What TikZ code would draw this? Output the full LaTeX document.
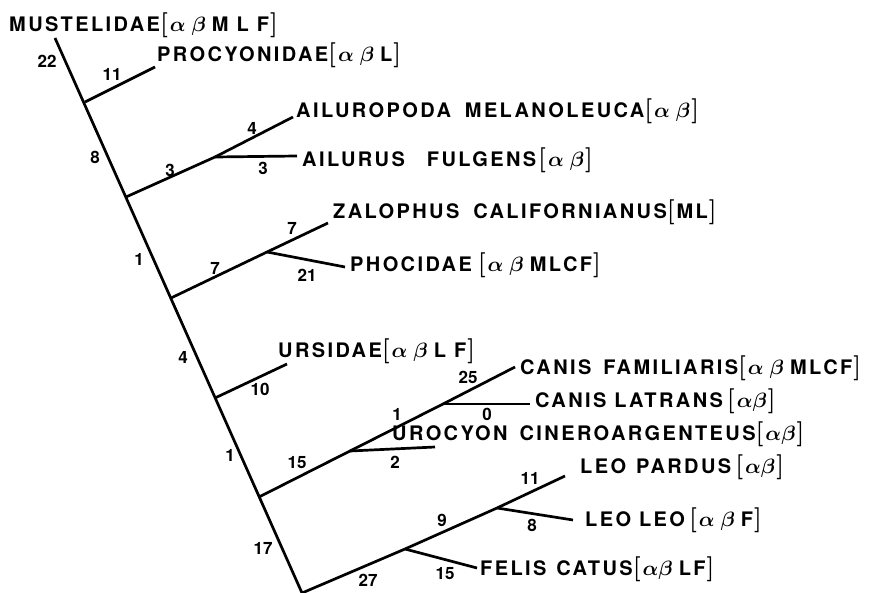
\documentclass[tikz,border=0pt]{standalone}
\usepackage{fontspec}
\newfontfamily\labfont{TeX Gyre Heros}[LetterSpace=12]
\newfontfamily\numfont{TeX Gyre Heros}
\newcommand\brk[1]{{\rmfamily\fontsize{25}{25}\selectfont#1}}
\newcommand\tg[1]{\brk{[}\hspace{2pt}#1\hspace{1pt}\brk{]}}
\newcommand\al{{\boldmath$\alpha$}}
\newcommand\be{{\boldmath$\beta$}}
\newcommand\gap{\hspace{0.3em}}
\begin{document}
\begin{tikzpicture}[x=1pt,y=-1pt,
  br/.style={line width=2.7pt},
  taxon/.style={anchor=base west,inner sep=0pt,font=\labfont\bfseries\fontsize{20}{22}\selectfont},
  num/.style={inner sep=0pt,font=\numfont\bfseries\fontsize{17}{17}\selectfont}]
\useasboundingbox (0,0) rectangle (872,593);
% tree points
\coordinate (top) at (55,38);
\coordinate (j1) at (85,102);
\coordinate (ptip) at (155,67);
\coordinate (j2) at (126,197);
\coordinate (aj) at (215,157);
\coordinate (atip1) at (293,117);
\coordinate (atip2) at (297,156);
\coordinate (j3) at (171,298);
\coordinate (zj) at (267,252);
\coordinate (ztip) at (328,223);
\coordinate (phtip) at (345,267);
\coordinate (j4) at (215,398);
\coordinate (utip) at (287,364);
\coordinate (j5) at (259,497);
\coordinate (cj1) at (350,451);
\coordinate (urotip) at (435,447);
\coordinate (cj2) at (443,404);
\coordinate (cftip) at (515,367);
\coordinate (cltip) at (530,404);
\coordinate (bot) at (302,593);
\coordinate (fj) at (405,549);
\coordinate (fctip) at (477,568);
\coordinate (lj) at (497,508);
\coordinate (lptip) at (565,476);
\coordinate (lltip) at (573,520);
% branches
\draw[br] (top) -- (bot);
\draw[br] (j1) -- (ptip);
\draw[br] (j2) -- (aj) -- (atip1);
\draw[br] (aj) -- (atip2);
\draw[br] (j3) -- (zj) -- (ztip);
\draw[br] (zj) -- (phtip);
\draw[br] (j4) -- (utip);
\draw[br] (j5) -- (cj1) -- (cj2) -- (cftip);
\draw[br] (cj1) -- (urotip);
\draw[br] (cj2) -- (cltip);
\draw[br] (bot) -- (fj) -- (lj) -- (lptip);
\draw[br] (fj) -- (fctip);
\draw[br] (lj) -- (lltip);
% taxa
\node[taxon] (must) at (9,32) {MUSTELIDAE\tg{\al\gap\be\gap M L F}};
\node[taxon] (proc) at (157,62) {PROCYONIDAE\tg{\al\gap\be\gap L}};
\node[taxon] (ailpo) at (296,118) {AILUROPODA\hspace{0.7em}MELANOLEUCA\tg{\al\gap\be}};
\node[taxon] (ailus) at (302,167) {AILURUS\hspace{1.1em}FULGENS\hspace{0.1em}\tg{\al\gap\be}};
\node[taxon] (zal) at (333,219) {ZALOPHUS\hspace{0.7em}CALIFORNIANUS\tg{ML}};
\node[taxon] (phoc) at (350,272) {PHOCIDAE\hspace{0.3em}\tg{\al\gap\be\gap MLCF}};
\node[taxon] (urs) at (278,357) {URSIDAE\tg{\al\gap\be\gap L F}};
\node[taxon] (cfam) at (520,374) {CANIS\hspace{0.6em}FAMILIARIS\tg{\al\gap\be\gap MLCF}};
\node[taxon] (clat) at (535,407) {CANIS\hspace{0.4em}LATRANS\hspace{0.2em}\tg{\al\be}};
\node[taxon] (uro) at (392,440) {UROCYON\hspace{0.6em}CINEROARGENTEUS\tg{\al\be}};
\node[taxon] (lpar) at (580,473) {LEO\hspace{0.5em}PARDUS\hspace{0.2em}\tg{\al\be}};
\node[taxon] (lleo) at (585,526) {LEO LEO\hspace{0.2em}\tg{\al\gap\be\gap F}};
\node[taxon] (fel) at (480,575) {FELIS\hspace{0.5em}CATUS\tg{\al\be\gap LF}};
% branch lengths
\node[num] (n22) at (47,61) {22};
\node[num] (n11a) at (112,74) {11};
\node[num] (n8) at (95,157) {8};
\node[num] (n3a) at (170,170) {3};
\node[num] (n4a) at (252,128) {4};
\node[num] (n3b) at (263,168) {3};
\node[num] (n1a) at (139,259) {1};
\node[num] (n7a) at (215,268) {7};
\node[num] (n7b) at (292,228) {7};
\node[num] (n21) at (307,275) {21};
\node[num] (n4b) at (183,357) {4};
\node[num] (n10) at (260,389) {10};
\node[num] (n25) at (468,377) {25};
\node[num] (n0) at (487,414) {0};
\node[num] (n1b) at (397,414) {1};
\node[num] (n1c) at (230,455) {1};
\node[num] (n15a) at (297,463) {15};
\node[num] (n2) at (395,462) {2};
\node[num] (n11b) at (530,478) {11};
\node[num] (n9) at (442,520) {9};
\node[num] (n8b) at (532,525) {8};
\node[num] (n17) at (263,548) {17};
\node[num] (n27) at (368,580) {27};
\node[num] (n15b) at (445,574) {15};
\end{tikzpicture}
\end{document}
